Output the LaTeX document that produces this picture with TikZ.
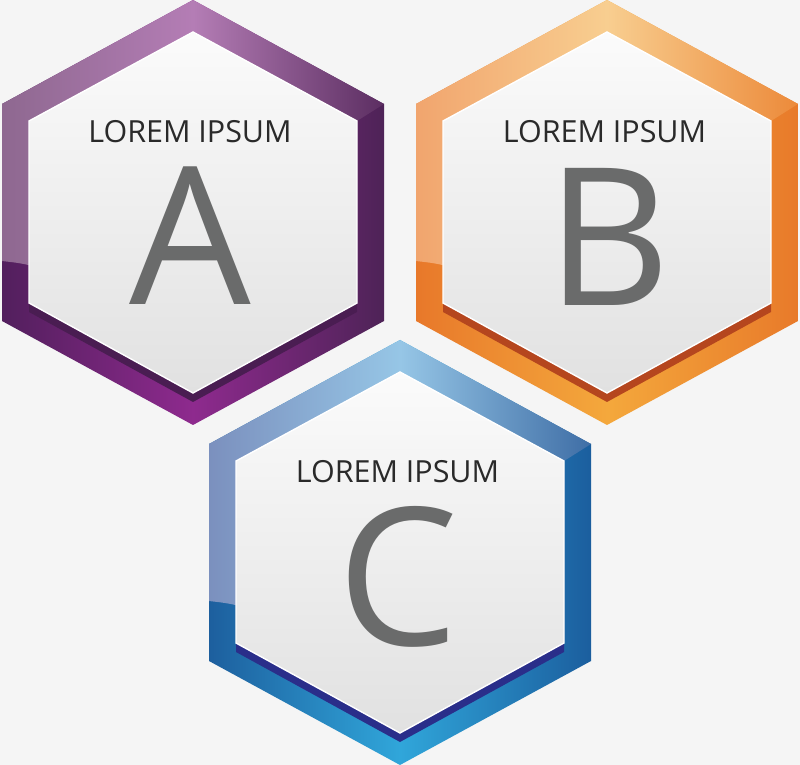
\documentclass[tikz,border=0pt]{standalone}
\usepackage{fontspec}
\setmainfont{Open Sans}
\definecolor{bg}{HTML}{F5F5F5}
\definecolor{innertop}{HTML}{FBFBFB}
\definecolor{innerbot}{HTML}{E1E1E1}
\definecolor{labelcol}{HTML}{2A2A2A}
\definecolor{lettercol}{HTML}{6A6B6B}
% A purple
\definecolor{aBL}{HTML}{521F5D}\definecolor{aBM}{HTML}{8E2A8E}\definecolor{aBR}{HTML}{4E2357}
\definecolor{aTL}{HTML}{8E6890}\definecolor{aTM}{HTML}{B47DB5}\definecolor{aTR}{HTML}{5C2E62}
\definecolor{aSh}{HTML}{4A1D52}
% B orange
\definecolor{bBL}{HTML}{E8782A}\definecolor{bBM}{HTML}{F4A83C}\definecolor{bBR}{HTML}{E87A2A}
\definecolor{bTL}{HTML}{F1A56E}\definecolor{bTM}{HTML}{F8CE90}\definecolor{bTR}{HTML}{EC8A3A}
\definecolor{bSh}{HTML}{B5461E}
% C blue
\definecolor{cBL}{HTML}{1D5F9E}\definecolor{cBM}{HTML}{30A6DA}\definecolor{cBR}{HTML}{1B5E9E}
\definecolor{cTL}{HTML}{7B90BE}\definecolor{cTM}{HTML}{96C6E6}\definecolor{cTR}{HTML}{3F6EA6}
\definecolor{cSh}{HTML}{2A2E8A}
\pgfdeclarehorizontalshading{aBase}{100bp}{color(0bp)=(aBL); color(25bp)=(aBL); color(50bp)=(aBM); color(75bp)=(aBR); color(100bp)=(aBR)}
\pgfdeclarehorizontalshading{aTop}{100bp}{color(0bp)=(aTL); color(25bp)=(aTL); color(50bp)=(aTM); color(75bp)=(aTR); color(100bp)=(aTR)}
\pgfdeclarehorizontalshading{bBase}{100bp}{color(0bp)=(bBL); color(25bp)=(bBL); color(50bp)=(bBM); color(75bp)=(bBR); color(100bp)=(bBR)}
\pgfdeclarehorizontalshading{bTop}{100bp}{color(0bp)=(bTL); color(25bp)=(bTL); color(50bp)=(bTM); color(75bp)=(bTR); color(100bp)=(bTR)}
\pgfdeclarehorizontalshading{cBase}{100bp}{color(0bp)=(cBL); color(25bp)=(cBL); color(50bp)=(cBM); color(75bp)=(cBR); color(100bp)=(cBR)}
\pgfdeclarehorizontalshading{cTop}{100bp}{color(0bp)=(cTL); color(25bp)=(cTL); color(50bp)=(cTM); color(75bp)=(cTR); color(100bp)=(cTR)}
\newcommand\drawhexbox[5]{%
  \begin{scope}[shift={(#1,#2)}]
    \path[shading=#3]
      (193,0)--(384,104)--(384,321)--(193,425)--(2,321)--(2,104)--cycle;
    \begin{scope}
      \clip (193,0)--(384,104)--(384,321)--(193,425)--(2,321)--(2,104)--cycle;
      \path[shading=#4]
        (2,261) .. controls (10,262) and (22,263) .. (32,266) -- (357,121) -- (384,104) -- (384,0) -- (2,0) -- cycle;
    \end{scope}
    \fill[#5] (193,41)--(357,130)--(357,312)--(193,402)--(29,312)--(29,130)--cycle;
    \path[top color=innertop, bottom color=innerbot, draw=white, line width=1.2pt]
      (193,32)--(357,121)--(357,303)--(193,393)--(29,303)--(29,121)--cycle;
  \end{scope}}
\tikzset{
  lbl/.style={anchor=base, text=labelcol, font=\fontsize{26}{26}\selectfont, inner sep=0pt},
  bigletter/.style={anchor=base, text=lettercol, font=\fontsize{164}{164}\selectfont, inner sep=0pt}
}
\begin{document}
\begin{tikzpicture}[x=0.03cm,y=-0.03cm]
\fill[bg] (0,0) rectangle (800,765);
\useasboundingbox (0,0) rectangle (800,765);
\drawhexbox{0}{0}{aBase}{aTop}{aSh}
\drawhexbox{414}{0}{bBase}{bTop}{bSh}
\drawhexbox{207}{340}{cBase}{cTop}{cSh}
\node[lbl] (la) at (190,143) {LOREM IPSUM};
\node[lbl] (lb) at (604.5,143) {LOREM IPSUM};
\node[lbl] (lc) at (397.5,483) {LOREM IPSUM};
\node[bigletter] (ba) at (190.5,305) {A};
\node[bigletter] (bb) at (608.5,306) {B};
\node[bigletter] (bc) at (398,645) {C};
\end{tikzpicture}
\end{document}
